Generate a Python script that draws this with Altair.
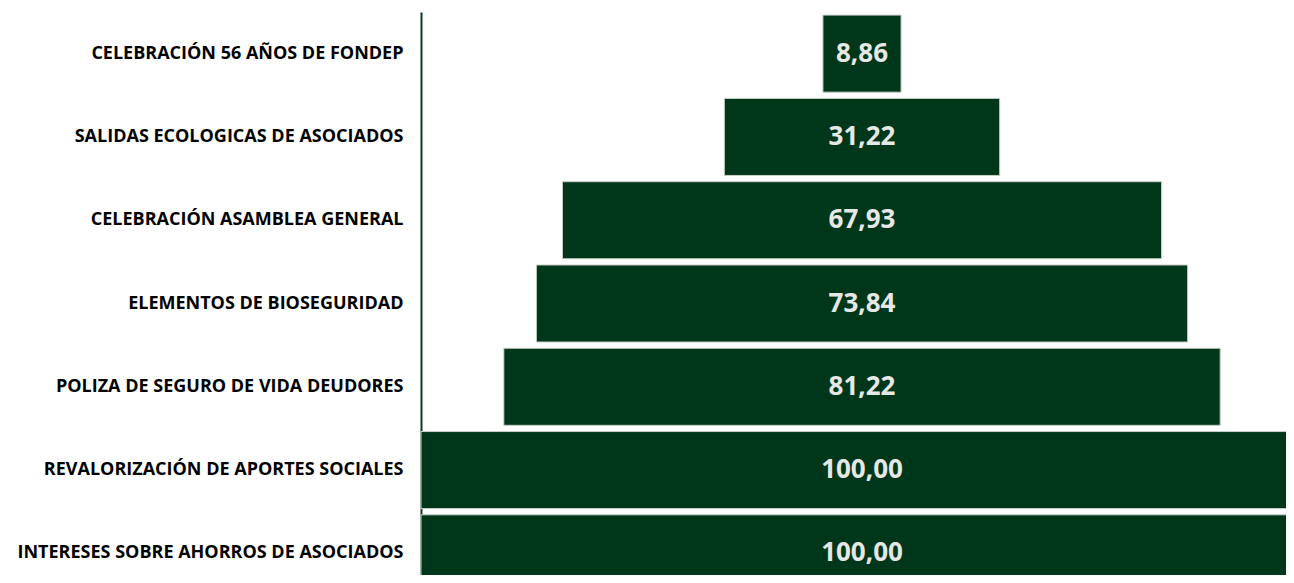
import altair as alt
import pandas as pd

categories = [
    "CELEBRACIÓN 56 AÑOS DE FONDEP",
    "SALIDAS ECOLOGICAS DE ASOCIADOS",
    "CELEBRACIÓN ASAMBLEA GENERAL",
    "ELEMENTOS DE BIOSEGURIDAD",
    "POLIZA DE SEGURO DE VIDA DEUDORES",
    "REVALORIZACIÓN DE APORTES SOCIALES",
    "INTERESES SOBRE AHORROS DE ASOCIADOS",
]
values = [8.86, 31.22, 67.93, 73.84, 81.22, 100.00, 100.00]
value_labels = ["8,86", "31,22", "67,93", "73,84", "81,22", "100,00", "100,00"]

df = pd.DataFrame({"cat": categories, "v": values, "lab": value_labels})

FONT = "Open Sans"
y_enc = alt.Y(
    "cat:N",
    sort=categories,
    title=None,
    scale=alt.Scale(range=[0, 583], paddingInner=0.075, paddingOuter=0.0375),
    axis=alt.Axis(
        ticks=False,
        labelPadding=18,
        labelFont=FONT,
        labelFontWeight="bold",
        labelFontSize=18,
        labelColor="#000000",
        labelLimit=420,
        domainColor="#0b3d1e",
        domainWidth=2,
        grid=False,
    ),
)
x_scale = alt.Scale(domain=[0, 100], range=[0, 882], nice=False, zero=False)

base = alt.Chart(df).transform_calculate(
    x0="50 - datum.v / 2", x1="50 + datum.v / 2"
)

bars = base.mark_bar(color="#00361a", stroke="#c8cfc8", strokeWidth=1).encode(
    y=y_enc,
    x=alt.X("x0:Q", scale=x_scale, axis=None),
    x2="x1:Q",
)

text = base.mark_text(
    font=FONT, fontWeight="bold", fontSize=26, color="#e6e8e6", align="center", baseline="middle"
).encode(
    y=alt.Y("cat:N", sort=categories),
    x=alt.X("mid:Q", scale=x_scale),
    text="lab:N",
).transform_calculate(mid="50")

chart = (
    alt.layer(bars, text)
    .properties(
        width=865,
        height=563,
        padding={"left": 413, "top": 4, "right": 0, "bottom": 0},
        autosize=alt.AutoSizeParams(type="none"),
        background="#ffffff",
    )
    .configure_view(stroke=None)
)

chart.save("out.html", embed_options={"renderer": "svg", "actions": False})
